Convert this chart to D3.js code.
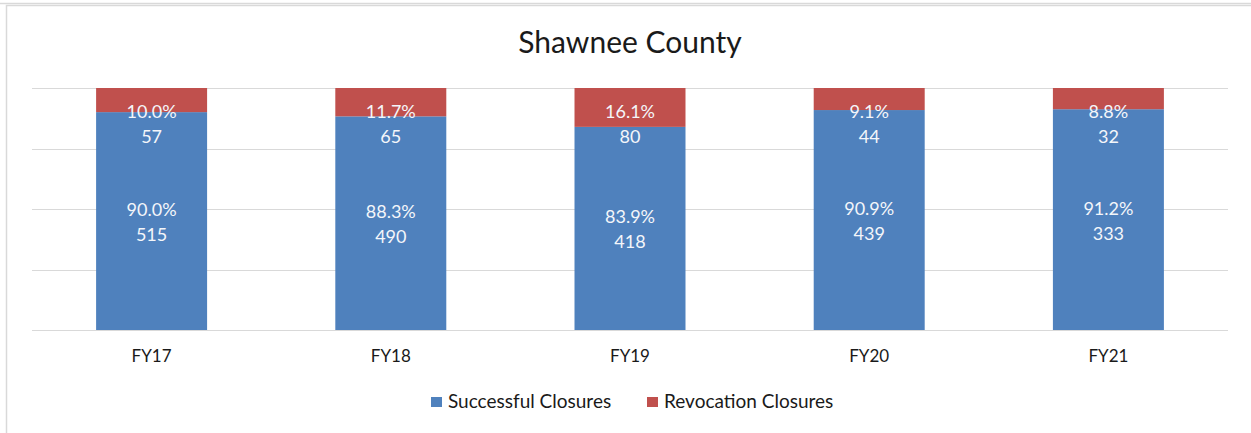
<!DOCTYPE html>
<html>
<head>
<meta charset="utf-8">
<script src="https://cdn.jsdelivr.net/npm/d3@7"></script>
<style>
  html, body { margin: 0; padding: 0; background: #fff; }
  svg { display: block; font-family: "Lato", "Open Sans", sans-serif; }
</style>
</head>
<body>
<svg id="chart" width="1251" height="433"></svg>
<script>
const title = "Shawnee County";
const categories = ["FY17", "FY18", "FY19", "FY20", "FY21"];
const successful = [515, 490, 418, 439, 333];
const revocation = [57, 65, 80, 44, 32];
const seriesNames = ["Successful Closures", "Revocation Closures"];
const colors = ["#4F81BD", "#C0504D"];
const yTicks = [0, 0.25, 0.5, 0.75, 1];

const W = 1251, H = 433;
const svg = d3.select("#chart");

// frame
svg.append("line").attr("x1", 0).attr("x2", W).attr("y1", 3.5).attr("y2", 3.5)
  .attr("stroke", "#d9d9d9").attr("stroke-width", 1.5);
svg.append("rect").attr("x", 6.5).attr("y", 5.5).attr("width", W + 10).attr("height", H + 10)
  .attr("fill", "none").attr("stroke", "#d9d9d9").attr("stroke-width", 1.5);

const x = d3.scaleBand().domain(categories).range([32, 1228])
  .paddingInner(0.536).paddingOuter(0.268);
const y = d3.scaleLinear().domain([0, 1]).range([330, 88]);

// gridlines
svg.append("g").selectAll("line").data(yTicks).join("line")
  .attr("x1", 32).attr("x2", 1228)
  .attr("y1", d => Math.round(y(d)) + 0.5).attr("y2", d => Math.round(y(d)) + 0.5)
  .attr("stroke", "#d9d9d9").attr("stroke-width", 1);

const rows = categories.map((c, i) => {
  const tot = successful[i] + revocation[i];
  return { cat: c, s: successful[i], r: revocation[i], sp: successful[i] / tot, rp: revocation[i] / tot };
});

// bars
const g = svg.append("g");
g.selectAll("rect.s").data(rows).join("rect").attr("class", "s")
  .attr("x", d => x(d.cat)).attr("width", x.bandwidth())
  .attr("y", d => y(d.sp)).attr("height", d => y(0) - y(d.sp))
  .attr("fill", colors[0]);
g.selectAll("rect.r").data(rows).join("rect").attr("class", "r")
  .attr("x", d => x(d.cat)).attr("width", x.bandwidth())
  .attr("y", d => y(1)).attr("height", d => y(d.sp) - y(1))
  .attr("fill", colors[1]);

// labels
const lab = svg.append("g").attr("fill", "#f4f6fa").attr("font-size", 18).attr("text-anchor", "middle");
rows.forEach(d => {
  const cx = x(d.cat) + x.bandwidth() / 2;
  const topY = y(1);
  lab.append("text").attr("x", cx).attr("y", topY + 30).text((d.rp * 100).toFixed(1) + "%");
  lab.append("text").attr("x", cx).attr("y", topY + 55).text(d.r);
  const mid = (y(d.sp) + y(0)) / 2;
  lab.append("text").attr("x", cx).attr("y", mid - 5).text((d.sp * 100).toFixed(1) + "%");
  lab.append("text").attr("x", cx).attr("y", mid + 20).text(d.s);
});

// x axis labels
svg.append("g").selectAll("text").data(categories).join("text")
  .attr("x", d => x(d) + x.bandwidth() / 2).attr("y", 362)
  .attr("text-anchor", "middle").attr("font-size", 17).attr("fill", "#1a1a1a")
  .text(d => d);

// title
svg.append("text").attr("x", 630).attr("y", 53).attr("text-anchor", "middle")
  .attr("font-size", 30).attr("fill", "#1a1a1a").text(title);

// legend
const leg = svg.append("g");
const legX = [431, 647];
seriesNames.forEach((n, i) => {
  leg.append("rect").attr("x", legX[i]).attr("y", 397).attr("width", 11).attr("height", 10).attr("fill", colors[i]);
  leg.append("text").attr("x", legX[i] + 17).attr("y", 408).attr("font-size", 19)
    .attr("fill", "#1a1a1a").text(n);
});
</script>
</body>
</html>
